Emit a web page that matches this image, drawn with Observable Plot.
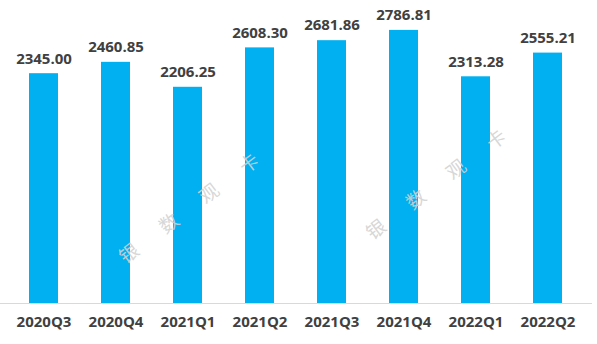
<!DOCTYPE html>
<html>
<head>
<meta charset="utf-8">
<script src="https://cdn.jsdelivr.net/npm/d3@7"></script>
<script src="https://cdn.jsdelivr.net/npm/@observablehq/plot@0.6"></script>
<style>
  html, body { margin: 0; padding: 0; background: #fff; }
  #wrap { position: relative; width: 597px; height: 344px; overflow: hidden; }
  .wm { position: absolute; font-family: "Noto Sans CJK SC", sans-serif; font-size: 19px;
        color: rgba(210,210,210,0.9); transform: translate(-50%,-50%) rotate(-37deg); white-space: nowrap; }
</style>
</head>
<body>
<div id="wrap"></div>
<script>
const quarters = ["2020Q3","2020Q4","2021Q1","2021Q2","2021Q3","2021Q4","2022Q1","2022Q2"];
const values = [2345.00, 2460.85, 2206.25, 2608.30, 2681.86, 2786.81, 2313.28, 2555.21];
const watermarkChars = ["银","数","观","卡"];

const data = quarters.map((q, i) => ({q, v: values[i]}));
const font = '"Open Sans", "Noto Sans", sans-serif';

const chart = Plot.plot({
  width: 597,
  height: 344,
  marginTop: 9,
  marginBottom: 41,
  marginLeft: 11,
  marginRight: 17,
  style: {fontFamily: font, background: "#fff"},
  x: {domain: quarters, paddingInner: 0.6, paddingOuter: 0.2, label: null},
  y: {domain: [0, 3000], axis: null},
  marks: [
    Plot.barY(data, {x: "q", y: "v", fill: "#00B0F0"}),
    Plot.ruleY([0], {stroke: "#d9d9d9", strokeWidth: 1, insetLeft: -11, insetRight: -12}),
    Plot.text(data, {x: "q", y: "v", text: d => d.v.toFixed(2), dy: -15,
      fontSize: 15, fontWeight: "bold", fill: "#404040"}),
    Plot.axisX({tickSize: 0, tickPadding: 13, fontSize: 15, fontWeight: "bold", fill: "#404040", label: null})
  ]
});
const wrap = document.getElementById("wrap");
wrap.appendChild(chart);

// faint diagonal watermark (decoration, not data)
const groups = [[128, 252], [375, 228]];
groups.forEach(([x0, y0]) => {
  watermarkChars.forEach((c, i) => {
    const s = document.createElement("span");
    s.className = "wm";
    s.textContent = c;
    s.style.left = (x0 + i * 40) + "px";
    s.style.top = (y0 - i * 30) + "px";
    wrap.appendChild(s);
  });
});
</script>
</body>
</html>
